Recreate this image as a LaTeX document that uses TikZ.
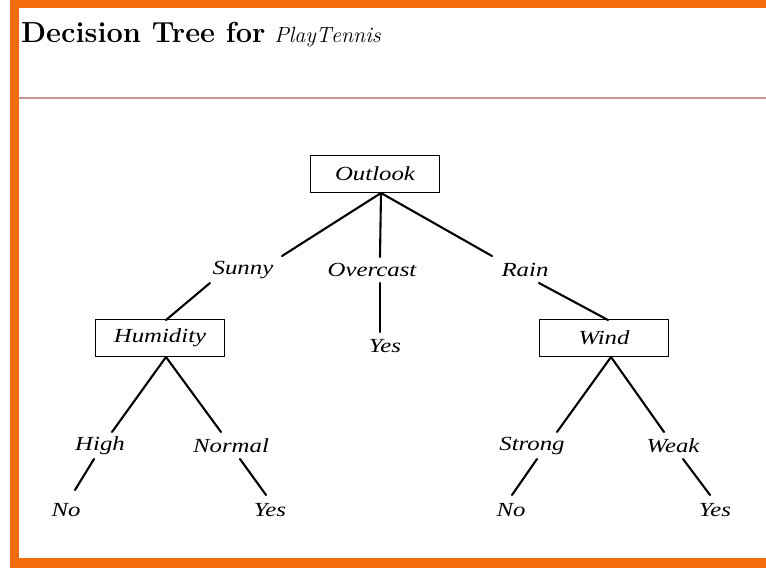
\documentclass[tikz,border=0pt]{standalone}
\usepackage{fontspec}
\newfontfamily\labfont{Liberation Serif}
\definecolor{frameorange}{RGB}{242,108,14}
\definecolor{rule}{RGB}{205,150,150}
\tikzset{
  lab/.style={font=\labfont\itshape\fontsize{20}{23}\selectfont, inner sep=1pt},
  attr/.style={lab, draw, line width=1.4pt, minimum width=129pt, minimum height=37pt},
  edge/.style={line width=2.1pt, line cap=round},
}
\newcommand{\wide}[1]{\scalebox{1.24}[1]{#1}}
\begin{document}
\begin{tikzpicture}[x=1pt,y=-1pt]
\useasboundingbox (0,0) rectangle (766,568);
% frame
\fill[frameorange] (10,0) rectangle (766,8);
\fill[frameorange] (10,0) rectangle (19,568);
\fill[frameorange] (10,558) rectangle (766,568);
\draw[rule, line width=1.4pt] (19,98) -- (766,98);
% title
\node[anchor=base west, inner sep=0pt, font=\fontsize{29}{32}\selectfont] (title) at (21,42)
  {\textbf{Decision Tree for} {\fontsize{22}{24}\selectfont$\mathit{PlayTennis}$}};
% nodes
\node[attr] (outlook) at (375,174) {\wide{Outlook}};
\node[lab] (sunny) at (243,270) {\wide{Sunny}};
\node[lab] (overcast) at (372,270) {\wide{Overcast}};
\node[lab] (rain) at (525,270) {\wide{Rain}};
\node[attr] (humidity) at (160,338) {\wide{Humidity}};
\node[lab] (yes1) at (385,346) {\wide{Yes}};
\node[attr] (wind) at (604,338) {\wide{Wind}};
\node[lab] (high) at (100,446) {\wide{High}};
\node[lab] (normal) at (231,446) {\wide{Normal}};
\node[lab] (strong) at (532,446) {\wide{Strong}};
\node[lab] (weak) at (673,446) {\wide{Weak}};
\node[lab] (no1) at (66,510) {\wide{No}};
\node[lab] (yes2) at (270,510) {\wide{Yes}};
\node[lab] (no2) at (511,510) {\wide{No}};
\node[lab] (yes3) at (715,510) {\wide{Yes}};
% anchor coordinates
\coordinate (o) at (381,193);
\coordinate (h) at (166,357);
\coordinate (w) at (611,357);
% edges
\draw[edge] (o) -- (282,256);
\draw[edge] (o) -- (380,257);
\draw[edge] (o) -- (492,256);
\draw[edge] (210,283) -- (166,320);
\draw[edge] (380,283) -- (380,332);
\draw[edge] (539,283) -- (608,320);
\draw[edge] (h) -- (112,432);
\draw[edge] (h) -- (221,432);
\draw[edge] (w) -- (557,432);
\draw[edge] (w) -- (664,432);
\draw[edge] (94,459) -- (75,490);
\draw[edge] (240,459) -- (266,495);
\draw[edge] (537,459) -- (512,495);
\draw[edge] (683,459) -- (710,495);
\end{tikzpicture}
\end{document}
